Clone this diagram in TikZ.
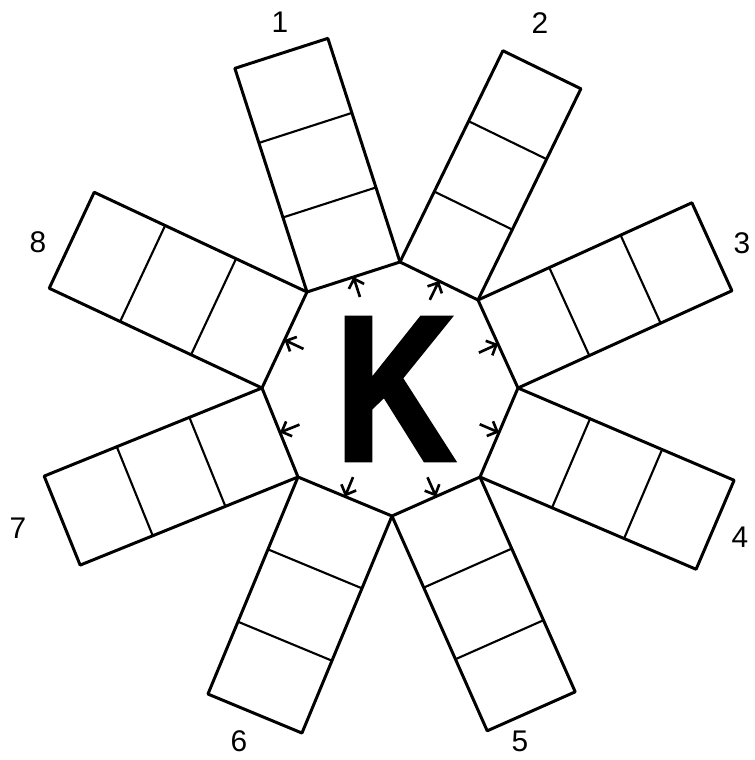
\documentclass[tikz,border=0pt]{standalone}
\usepackage{fontspec}
\setmainfont{Liberation Sans}
\newfontfamily\kfont{Liberation Sans Bold}[FakeBold=2.5]
\usetikzlibrary{calc,arrows.meta}

\begin{document}
\begin{tikzpicture}[
  rim/.style = {line width=1.7pt, line join=round, line cap=round},
  bar/.style = {line width=1.2pt},
  outarr/.style = {line width=1.5pt,
                -{Straight Barb[length=1.6mm,width=3.2mm,line width=1.5pt]}},
  num/.style = {font=\fontsize{17}{17}\selectfont, inner sep=0pt}
]
  \useasboundingbox (-7.8,-7.42) rectangle (7.3,7.78);

  % octagon corners
  \coordinate (c1) at (-1.66,1.94);
  \coordinate (c2) at (0.20,2.54);
  \coordinate (c3) at (1.76,1.78);
  \coordinate (c4) at (2.56,0.02);
  \coordinate (c5) at (1.80,-1.76);
  \coordinate (c6) at (0.04,-2.54);
  \coordinate (c7) at (-1.84,-1.76);
  \coordinate (c8) at (-2.56,0.02);

  % arms with three cells, arrow on each side
  \foreach \i/\j in {1/2,2/3,3/4,4/5,5/6,6/7,7/8,8/1} {
    \coordinate (a\i) at ($(c\i)!4.7cm!90:(c\j)$);
    \coordinate (b\i) at ($(c\j)!4.7cm!-90:(c\i)$);
    \coordinate (m\i) at ($(c\i)!.5!(c\j)$);
    \draw[rim] (c\i) -- (a\i) -- (b\i) -- (c\j);
    \draw[bar] ($(c\i)!1/3!(a\i)$) -- ($(c\j)!1/3!(b\i)$);
    \draw[bar] ($(c\i)!2/3!(a\i)$) -- ($(c\j)!2/3!(b\i)$);
    \draw[outarr] ($(m\i)!0.42cm!-90:(c\j)$) -- (m\i);
  }

  % octagon
  \draw[rim] (c1) -- (c2) -- (c3) -- (c4) -- (c5) -- (c6) -- (c7) -- (c8) -- cycle;

  % letter
  \node (K) at (0.1,0)
    {\scalebox{0.8}[1]{\fontsize{117}{117}\selectfont\kfont K}};

  % numbers
  \node[num] (n1) at (-2.20,7.34) {1};
  \node[num] (n2) at (3.00,7.32) {2};
  \node[num] (n3) at (7.04,2.92) {3};
  \node[num] (n4) at (7.00,-2.96) {4};
  \node[num] (n5) at (2.60,-7.04) {5};
  \node[num] (n6) at (-3.02,-7.04) {6};
  \node[num] (n7) at (-7.44,-2.78) {7};
  \node[num] (n8) at (-7.04,2.94) {8};
\end{tikzpicture}
\end{document}
